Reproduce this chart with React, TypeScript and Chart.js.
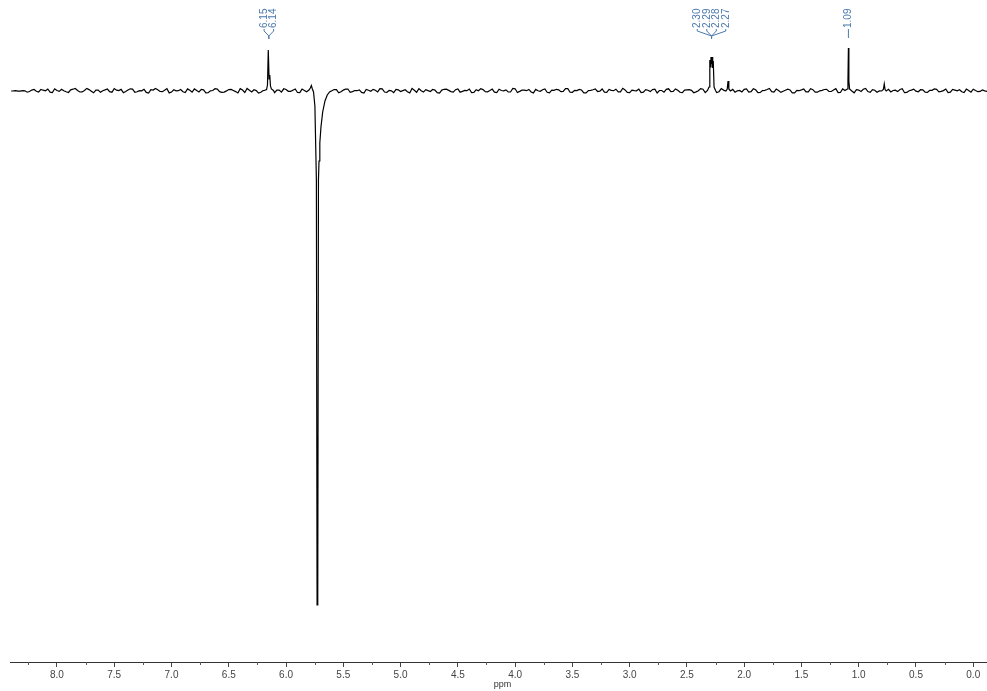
import React, { useEffect, useRef } from 'react';
import { Chart, registerables } from 'chart.js';

Chart.register(...registerables);

// ---- data ----
const xMinPpm = -0.12;
const xMaxPpm = 8.41;
const majorStep = 0.5;
const minorStep = 0.25;

// baseline noise, sampled every 0.04 ppm from 8.40 ppm down to -0.12 ppm
const noiseStart = 8.4;
const noiseStep = 0.04;
const noise = [
  0, 0.3, -0.2, 0.2, -0.5, 1.5, -1, 0.8, 2, -1.5, 0.5, 1.8, -0.8, 1.2, 2.5, -1, 0.6, 1.4, -1.8, 1,
  0.3, 2, -1.2, 0.8, 1.6, -0.5, 2.2, -1.4, 0.4, 1.7, -2, 0.9, 1.3, -0.7, 2.4, -1.1, 0.2, 1.5, -1.6, 0.7,
  2.1, -0.9, 1.1, -1.7, 0.5, 1.9, -1.3, 0.1, 1.6, -0.6, 2.3, -1.5, 0.8, 1.2, -2.1, 0.4, 1.8, -0.8, 1, -1.2,
  1.5, -0.4, 2, -1.6, 0.6, 1.3, -1, 0.9, 2.2, -1.8, 0.3, 1.4, -0.7, 1.9, -1.3, 0.5, 1.1, -2, 0.8, 1.6,
  -0.9, 2.1, -1.4, 0.2, 1.7, -0.5, 1.2, -1.9, 0.7, 2.4, -1.1, 0.4, 1.5, -1.6, 0.9, 1.8, -0.6, 1.3, -1.2, 0.6,
  2, -1.5, 0.3, 1.4, -0.8, 1.9, -1.7, 0.5, 1.1, -1, 2.2, -0.4, 0.8, 1.6, -1.9, 0.2, 1.3, -1.3, 0.9, 1.7,
  -0.7, 2.3, -1.2, 0.6, 1.5, -1.8, 0.4, 1.2, -0.5, 2, -1.4, 0.7, 1.8, -0.9, 1.1, -1.6, 0.3, 1.9, -1.1, 0.8,
  1.4, -2, 0.5, 1.6, -0.6, 2.1, -1.3, 0.9, 1.3, -1.7, 0.2, 1.8, -0.8, 1, -1.5, 2.4, -0.3, 1.2, -1.2, 0.6,
  1.7, -1, 2.2, -1.6, 0.4, 1.5, -0.7, 1.9, -1.4, 0.8, 1.1, -1.9, 0.3, 2, -0.9, 1.3, -1.2, 0.7, 1.6, -0.5,
  2.3, -1.5, 0.6, 1.2, -1.8, 0.9, 1.7, -0.6, 1.4, -1.3, 0.5, 2.1, -1, 0.8, 1.5, -1.7, 0.2, 1.9, -0.8, 1.1,
  -1.4, 0.7, 1.6, -0.4, 2, -1.2, 0.9, 1.3, -1.6, 0.5, 1.8, -0.7, 1, -0.3,
];
// baseline noise at the mid-points, from 8.38 ppm down to -0.10 ppm
const noise2Start = 8.38;
const noise2 = [
  0.1, -0.2, 0.4, -1.2, 0.9, -0.3, 1.6, 0.2, -1.1, 2.2, -0.4, 0.3, -1.5, 1.8, 0.6, -0.9, 2.6, -0.2, 0.8, -1.3,
  1.1, -0.6, 2.4, 0.4, -1.7, 0.9, 1.9, -0.8, 0.2, -1.4, 1.3, 2.6, -0.5, 0.7, -1.9, 1.2, 0.3, -0.7, 2.1, -1.2,
  0.6, 1.7, -1.8, 0.2, 2.3, -0.6, -1.1, 1.4, 0.5, -2.0, 1.0, 2.5, -0.9, 0.4, -1.3, 1.8, 0.1, -1.6, 0.9, 2.2,
  -0.3, 0.8, -1.5, 1.9, -0.7, 0.4, 2.4, -1.2, 0.6, -0.4, 1.5, -1.8, 0.9, 2.0, -0.6, 0.3, -1.4, 1.6, -0.2, 0.7,
  2.3, -1.0, 0.5, -1.7, 1.2, 0.4, -0.8, 2.6, -1.3, 0.2, 1.4, -0.5, 0.9, -2.0, 1.7, 0.6, -1.1, 2.1, -0.4, 0.3,
  -1.6, 1.3, 2.2, -0.7, 0.5, -1.2, 1.8, 0.1, -0.9, 2.5, -1.5, 0.8, 0.3, -1.0, 1.6, -0.3, 2.0, -1.8, 0.7, 1.1,
  -0.5, 2.4, -1.3, 0.4, 1.0, -1.9, 0.6, 2.1, -0.2, -1.1, 1.5, 0.3, -0.8, 2.7, -1.4, 0.9, 0.2, -1.6, 1.3, -0.6,
  1.9, 0.5, -1.2, 2.2, -0.4, 0.8, -1.7, 1.1, 0.6, -0.9, 2.4, -1.5, 0.3, 1.4, -0.7, 0.9, -2.1, 1.6, 0.2, -1.0,
  2.0, -0.6, 1.2, -1.4, 0.7, 2.5, -1.1, 0.4, -0.3, 1.8, -1.9, 0.6, 1.1, -0.8, 2.3, -1.2, 0.2, 1.5, -0.5, 0.9,
  -1.6, 2.1, 0.3, -1.0, 1.4, -0.4, 2.6, -1.3, 0.8, 0.1, -1.8, 1.7, 0.5, -0.6, 2.2, -1.4, 0.9, -0.2, 1.3, -1.1,
  0.7, 2.0, -0.8, 0.4, -1.5, 1.6, 0.2, -0.7, 1.9, -1.2, 0.5, -0.4, 0.2,
];

// peaks (ppm, intensity)
const peak615Ppm = [6.19, 6.17, 6.162, 6.155, 6.148, 6.142, 6.136, 6.128, 6.11];
const peak615Val = [0.5, 1.5, 6, 41, 12, 16, 5, 2, 0.5];

const peak572Ppm = [5.8, 5.788, 5.779, 5.77, 5.76, 5.748, 5.74, 5.735, 5.729, 5.723, 5.717, 5.712, 5.705, 5.695, 5.68, 5.66, 5.64, 5.62];
const peak572Val = [1, 3, 5.5, 2, -1, -15, -60, -89, -514, -500, -89, -70, -52, -36, -21, -10, -4, -1];

const peak228Ppm = [2.32, 2.307, 2.3, 2.295, 2.29, 2.285, 2.28, 2.275, 2.27, 2.263, 2.25];
const peak228Val = [0.5, 4, 31, 24, 34, 27, 34, 23, 30, 4, 0.5];

const peak214Ppm = [2.16, 2.148, 2.141, 2.134, 2.12];
const peak214Val = [0, 2, 10, 2, 0];

const peak109Ppm = [1.12, 1.1, 1.094, 1.09, 1.086, 1.08, 1.06];
const peak109Val = [0.5, 2, 10, 43, 10, 2, 0];

const peak077Ppm = [0.8, 0.785, 0.777, 0.77, 0.76];
const peak077Val = [0, 1.5, 7, 1.5, 0];

// peak-pick labels
const labels615 = ['6.15', '6.14'];
const anchor615 = 6.15;
const labels228 = ['2.30', '2.29', '2.28', '2.27'];
const anchor228 = 2.285;
const labels109 = ['1.09'];
const anchor109 = 1.09;

const axisTitle = 'ppm';

// ---- build ----
function buildPoints() {
  const peaks = [
    [peak615Ppm, peak615Val],
    [peak572Ppm, peak572Val],
    [peak228Ppm, peak228Val],
    [peak214Ppm, peak214Val],
    [peak109Ppm, peak109Val],
    [peak077Ppm, peak077Val],
  ];
  const pts: { x: number; y: number }[] = [];
  const addNoise = (arr: number[], start: number) => {
    arr.forEach((v, i) => {
      const x = +(start - i * noiseStep).toFixed(3);
      const inside = peaks.some(([p]) => x <= p[0] && x >= p[p.length - 1]);
      if (!inside) pts.push({ x, y: v });
    });
  };
  addNoise(noise, noiseStart);
  addNoise(noise2, noise2Start);
  peaks.forEach(([p, val]) => p.forEach((x, i) => pts.push({ x, y: val[i] })));
  pts.sort((a, b) => b.x - a.x);
  return pts;
}

const BASELINE_PX = 91;
const AXIS_PX = 662;
const CANVAS_W = 987;
const CANVAS_H = 691;

const overlayPlugin = {
  id: 'nmrOverlay',
  afterDraw(chart: any) {
    const ctx = chart.ctx as CanvasRenderingContext2D;
    const xs = chart.scales.x;
    const area = chart.chartArea;
    ctx.save();
    // minor ticks
    ctx.strokeStyle = '#555';
    ctx.lineWidth = 1;
    for (let k = Math.ceil(xMinPpm / minorStep); k * minorStep <= xMaxPpm; k++) {
      const v = k * minorStep;
      if (Math.abs(v / majorStep - Math.round(v / majorStep)) < 1e-6) continue;
      const px = Math.round(xs.getPixelForValue(v)) + 0.5;
      ctx.beginPath();
      ctx.moveTo(px, area.bottom);
      ctx.lineTo(px, area.bottom + 3);
      ctx.stroke();
    }
    // axis title
    ctx.fillStyle = '#333';
    ctx.font = '9px "Liberation Sans", Arial, sans-serif';
    ctx.textAlign = 'center';
    ctx.textBaseline = 'middle';
    ctx.fillText(axisTitle, (area.left + area.right) / 2 + 4, 685);

    // peak labels
    const groups = [
      { labels: labels615, anchor: anchor615 },
      { labels: labels228, anchor: anchor228 },
      { labels: labels109, anchor: anchor109 },
    ];
    const blue = '#4a79ad';
    ctx.font = '10px "Liberation Sans", Arial, sans-serif';
    ctx.fillStyle = blue;
    ctx.strokeStyle = blue;
    groups.forEach((g) => {
      const ax = xs.getPixelForValue(g.anchor);
      const n = g.labels.length;
      const spacing = 9.5;
      g.labels.forEach((lab, i) => {
        const tx = ax + (i - (n - 1) / 2) * spacing;
        ctx.save();
        ctx.translate(tx, 28);
        ctx.rotate(-Math.PI / 2);
        ctx.textAlign = 'left';
        ctx.textBaseline = 'middle';
        ctx.fillText(lab, 0, 0);
        ctx.restore();
        ctx.beginPath();
        if (n === 1) {
          ctx.moveTo(tx, 29);
          ctx.lineTo(tx, 38);
        } else {
          ctx.moveTo(tx, 29);
          ctx.lineTo(tx, 31);
          ctx.lineTo(ax, 36);
          ctx.lineTo(ax, 39);
        }
        ctx.stroke();
      });
    });
    ctx.restore();
  },
};

export default function App() {
  const ref = useRef<HTMLCanvasElement | null>(null);
  useEffect(() => {
    if (!ref.current) return;
    const chart = new Chart(ref.current, {
      type: 'line',
      data: {
        datasets: [
          {
            data: buildPoints(),
            borderColor: '#000',
            borderWidth: 1.2,
            pointRadius: 0,
            tension: 0,
            fill: false,
          },
        ],
      },
      options: {
        animation: false,
        responsive: false,
        devicePixelRatio: 1,
        layout: { padding: { left: 10, right: 0, top: 0, bottom: 0 } },
        plugins: { legend: { display: false }, tooltip: { enabled: false } },
        scales: {
          x: {
            type: 'linear',
            reverse: true,
            min: xMinPpm,
            max: xMaxPpm,
            position: 'bottom',
            border: { display: true, color: '#333', width: 1 },
            grid: { drawOnChartArea: false, drawTicks: true, tickLength: 5, color: '#444' },
            ticks: {
              stepSize: majorStep,
              includeBounds: false,
              autoSkip: false,
              maxRotation: 0,
              padding: 2,
              color: '#444',
              font: { size: 10, family: '"Liberation Sans", Arial, sans-serif' },
              callback: (v: any) => Number(v).toFixed(1),
            },
            afterFit: (s: any) => {
              s.height = CANVAS_H - AXIS_PX;
            },
          },
          y: {
            display: false,
            min: -(AXIS_PX - BASELINE_PX),
            max: BASELINE_PX,
          },
        },
      },
      plugins: [overlayPlugin],
    } as any);
    return () => chart.destroy();
  }, []);
  return (
    <div style={{ position: 'absolute', left: 0, top: 0, width: CANVAS_W, height: CANVAS_H, background: '#fff' }}>
      <canvas ref={ref} width={CANVAS_W} height={CANVAS_H} style={{ display: 'block' }} />
    </div>
  );
}
